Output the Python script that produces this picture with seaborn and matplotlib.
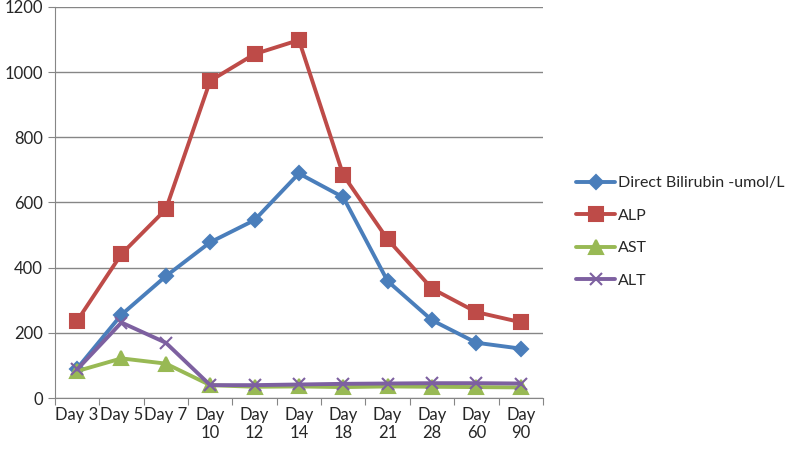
import numpy as np
import pandas as pd
import matplotlib as mpl
mpl.use("Agg")
import matplotlib.pyplot as plt
import seaborn as sns
from matplotlib.ticker import FixedLocator

# data
days = ["Day 3", "Day 5", "Day 7", "Day\n10", "Day\n12", "Day\n14", "Day\n18",
        "Day\n21", "Day\n28", "Day\n60", "Day\n90"]
bilirubin = [91, 256, 374, 478, 546, 689, 616, 359, 239, 170, 152]
alp = [237, 442, 579, 973, 1055, 1098, 684, 487, 336, 264, 233]
ast = [83, 122, 106, 40, 35, 36, 34, 36, 35, 34, 33]
alt = [88, 232, 170, 40, 40, 42, 44, 45, 46, 46, 45]

series = ["Direct Bilirubin -umol/L", "ALP", "AST", "ALT"]
colors = ["#4A7EBB", "#BE4B48", "#98B954", "#7D60A0"]
markers = ["D", "s", "^", "x"]
msizes = [7.5, 9.5, 9.5, 9]

sns.set_style("white")
plt.rcParams['font.family'] = ['Lato', 'DejaVu Sans']

fig = plt.figure(figsize=(7.96, 4.53), dpi=100)
ax = fig.add_axes([0.069, 0.121, 0.613, 0.864])

for name, vals, c, m, ms in zip(series, [bilirubin, alp, ast, alt], colors, markers, msizes):
    d = pd.DataFrame({"Day": pd.Categorical(days, categories=days, ordered=True),
                      "Value": vals})
    sns.lineplot(data=d, x="Day", y="Value", color=c, marker=m, markersize=ms,
                 markeredgecolor=c, markeredgewidth=1.5, linewidth=2.8,
                 sort=False, label=name, ax=ax)

ax.set_ylim(0, 1200)
ax.set_yticks(np.arange(0, 1201, 200))
ax.set_xlim(-0.5, len(days) - 0.5)
ax.xaxis.set_major_locator(FixedLocator(np.arange(-0.5, len(days), 1)))
ax.xaxis.set_major_formatter(plt.NullFormatter())
ax.xaxis.set_minor_locator(FixedLocator(np.arange(len(days))))
ax.set_xticklabels(days, minor=True)
ax.tick_params(axis="x", which="major", length=5, color="#868686", direction="out", bottom=True)
ax.tick_params(axis="x", which="minor", length=0, labelsize=12, pad=6)
ax.tick_params(axis="y", length=5, color="#868686", direction="out", left=True, labelsize=12)
ax.grid(axis="y", color="#868686", linewidth=1)
ax.set_axisbelow(True)
for s in ["top", "right"]:
    ax.spines[s].set_visible(False)
for s in ["left", "bottom"]:
    ax.spines[s].set_color("#868686")
ax.set_xlabel("")
ax.set_ylabel("")

handles, labels = ax.get_legend_handles_labels()
ax.legend(handles, labels, loc="upper left", bbox_to_anchor=(0.705, 0.643),
          bbox_transform=fig.transFigure, frameon=False, fontsize=11.5,
          labelspacing=1.15, handlelength=2.5, handletextpad=0.15)

fig.savefig("out.png", dpi=100)
